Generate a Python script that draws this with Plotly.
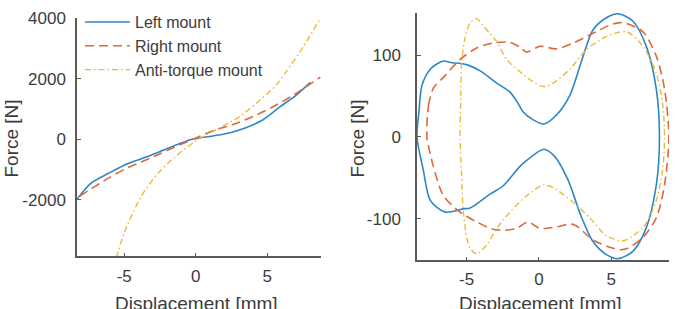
import plotly.graph_objects as go

# ---------------- data: left panel (static stiffness curves) ----------------
left_blue_x = [-8.3, -7.3, -6.1, -5.0, -3.8, -2.6, -1.5, -0.8, -0.4, 0.3, 1.2, 2.4, 3.5, 4.7, 5.9, 7.0, 8.0]
left_blue_y = [-1990, -1450, -1130, -860, -645, -430, -215, -90, -20, 40, 108, 215, 376, 645, 1075, 1450, 1880]

left_red_x = [-8.1, -7.5, -6.1, -5.0, -3.8, -2.6, -1.5, -0.2, 1.45, 2.6, 4.0, 5.4, 6.8, 8.7]
left_red_y = [-1880, -1700, -1290, -1000, -753, -506, -269, 0, 323, 484, 753, 1075, 1452, 2050]

left_yel_x = [-5.55, -4.97, -3.8, -2.64, -1.47, -0.3, 0.3, 1.68, 3.08, 4.48, 5.64, 6.34, 7.5, 8.7]
left_yel_y = [-3925, -3064, -1882, -1129, -591, -161, 30, 376, 753, 1290, 1800, 2250, 3050, 4000]

# ---------------- data: right panel (hysteresis loops) ----------------
right_blue_x = [-8.43, -8.3, -8.09, -7.52, -7.0, -6.6, -6.0, -5.45, -4.9, -4.07, -3.5, -2.92, -2.0, -1.5, -1.1,
                -0.39, 0.34, 1.22, 2.14, 3.06, 3.74, 4.67, 5.47, 6.5, 7.43, 8.12, 8.34,
                8.12, 7.43, 6.5, 5.47, 4.67, 3.74, 2.9, 2.0, 1.1, 0.34, -0.58, -1.31, -2.48, -3.38,
                -4.76, -5.24, -6.48, -7.5, -8.0, -8.43]
right_blue_y = [0, 30, 63, 83, 90, 93, 91, 90, 88, 81, 74, 66, 55, 43, 31,
                21, 16, 27, 51, 99, 131, 146, 151, 142, 111, 59, 0,
                -59, -111, -140, -149, -144, -128, -96, -52, -24, -15, -25, -36, -60, -70,
                -87, -88, -92, -78, -40, 0]

right_red_x = [-7.75, -7.63, -7.29, -6.6, -5.45, -4.3, -3.17, -2.0, -1.3, -0.85, 0.07, 1.22, 2.37, 3.74, 4.9,
               5.59, 6.05, 7.19, 8.12, 8.69, 8.99,
               8.69, 8.12, 7.19, 6.05, 5.59, 4.9, 3.74, 2.37, 1.22, 0.07, -0.76, -1.54, -2.23, -3.17,
               -4.3, -5.45, -6.6, -7.3, -7.65, -7.75]
right_red_y = [0, 39, 60, 73, 95, 109, 115, 116, 110, 104, 111, 108, 115, 127, 137,
               140, 139, 129, 99, 59, 0,
               -59, -99, -123, -137, -138, -135, -126, -107, -110, -112, -104, -112, -114, -113,
               -104, -92, -72, -36, -10, 0]

right_yel_x = [-5.45, -5.4, -5.35, -5.1, -4.75, -4.3, -3.9, -3.4, -2.92, -2.23, -1.31, -0.76, 0.07, 0.5, 0.99,
               2.14, 3.29, 4.67, 6.05, 7.2, 8.1, 8.57, 8.69,
               8.57, 8.1, 7.2, 5.82, 4.67, 3.52, 2.37, 0.99, 0.3, -0.85, -2.0, -2.92, -3.6, -4.3,
               -4.8, -5.22, -5.35, -5.45]
right_yel_y = [0, 50, 89, 122, 140, 145, 137, 127, 117, 95, 80, 72, 63, 62, 66,
               83, 107, 123, 129, 111, 79, 39, 0,
               -39, -79, -111, -127, -121, -99, -80, -62, -59, -72, -92, -112, -132, -143,
               -135, -92, -45, 0]

series_names = ["Left mount", "Right mount", "Anti-torque mount"]
colors = ["#2f86c6", "#dd6a3a", "#edb83a"]
dashes = ["solid", "9px,5px", "6px,3px,1.5px,3px"]

left_yticks = [-2000, 0, 2000, 4000]
left_yticktext = ["-2000", "0", "2000", "4000"]
right_yticks = [-100, 0, 100]
right_yticktext = ["-100", "0", "100"]
xticks = [-5, 0, 5]
xticktext = ["-5", "0", "5"]

FONT = "Liberation Sans, Arial, Helvetica, sans-serif"
TXT = "#3c3c3c"
AX = "#5a5a5a"

fig = go.Figure()
left_data = [(left_blue_x, left_blue_y), (left_red_x, left_red_y), (left_yel_x, left_yel_y)]
right_data = [(right_blue_x, right_blue_y), (right_red_x, right_red_y), (right_yel_x, right_yel_y)]
widths = [1.6, 1.6, 1.4]

for i, (xs, ys) in enumerate(left_data):
    fig.add_trace(go.Scatter(x=xs, y=ys, mode="lines", name=series_names[i],
                             line=dict(color=colors[i], dash=dashes[i], width=widths[i], shape="spline", smoothing=0.8),
                             xaxis="x", yaxis="y", showlegend=True))
for i, (xs, ys) in enumerate(right_data):
    fig.add_trace(go.Scatter(x=xs, y=ys, mode="lines", name=series_names[i],
                             line=dict(color=colors[i], dash=dashes[i], width=widths[i], shape="spline", smoothing=0.8),
                             xaxis="x2", yaxis="y2", showlegend=False))

axis_common = dict(showline=True, linecolor=AX, linewidth=1.5, ticks="inside", ticklen=4,
                   tickcolor=AX, tickwidth=1, showgrid=False, zeroline=False, mirror=False,
                   tickfont=dict(family=FONT, size=17, color=TXT))

fig.update_layout(
    width=675, height=309, autosize=False,
    margin=dict(l=0, r=0, t=0, b=0),
    paper_bgcolor="white", plot_bgcolor="white",
    xaxis=dict(domain=[77/675, 321/675], range=[-8.3, 8.75], anchor="y",
               tickvals=xticks, ticktext=xticktext, ticklabelstandoff=3, **axis_common),
    yaxis=dict(domain=[1-255/309, 1-10/309], range=[-3880, 4020], anchor="x",
               tickvals=left_yticks, ticktext=left_yticktext, ticklabelstandoff=6, **axis_common),
    xaxis2=dict(domain=[417/675, 669/675], range=[-8.43, 9.0], anchor="y2",
                tickvals=xticks, ticktext=xticktext, ticklabelstandoff=3, **axis_common),
    yaxis2=dict(domain=[1-259/309, 1-5/309], range=[-151, 152], anchor="x2",
                tickvals=right_yticks, ticktext=right_yticktext, ticklabelstandoff=11, **axis_common),
    legend=dict(x=80/675, y=1 + 3/309, xanchor="left", yanchor="top", itemwidth=45,
                bgcolor="rgba(0,0,0,0)", borderwidth=0,
                font=dict(family=FONT, size=16, color=TXT), tracegroupgap=0),
    annotations=[
        dict(text="Displacement [mm]", xref="paper", yref="paper", x=196/675, y=1-303/309,
             xanchor="center", yanchor="middle", showarrow=False, font=dict(family=FONT, size=19, color=TXT)),
        dict(text="Displacement [mm]", xref="paper", yref="paper", x=540/675, y=1-303/309,
             xanchor="center", yanchor="middle", showarrow=False, font=dict(family=FONT, size=19, color=TXT)),
        dict(text="Force [N]", xref="paper", yref="paper", x=12/675, y=1-134/309, textangle=-90,
             xanchor="center", yanchor="middle", showarrow=False, font=dict(family=FONT, size=19, color=TXT)),
        dict(text="Force [N]", xref="paper", yref="paper", x=358/675, y=1-134/309, textangle=-90,
             xanchor="center", yanchor="middle", showarrow=False, font=dict(family=FONT, size=19, color=TXT)),
    ],
)

fig.write_html("out.html")
